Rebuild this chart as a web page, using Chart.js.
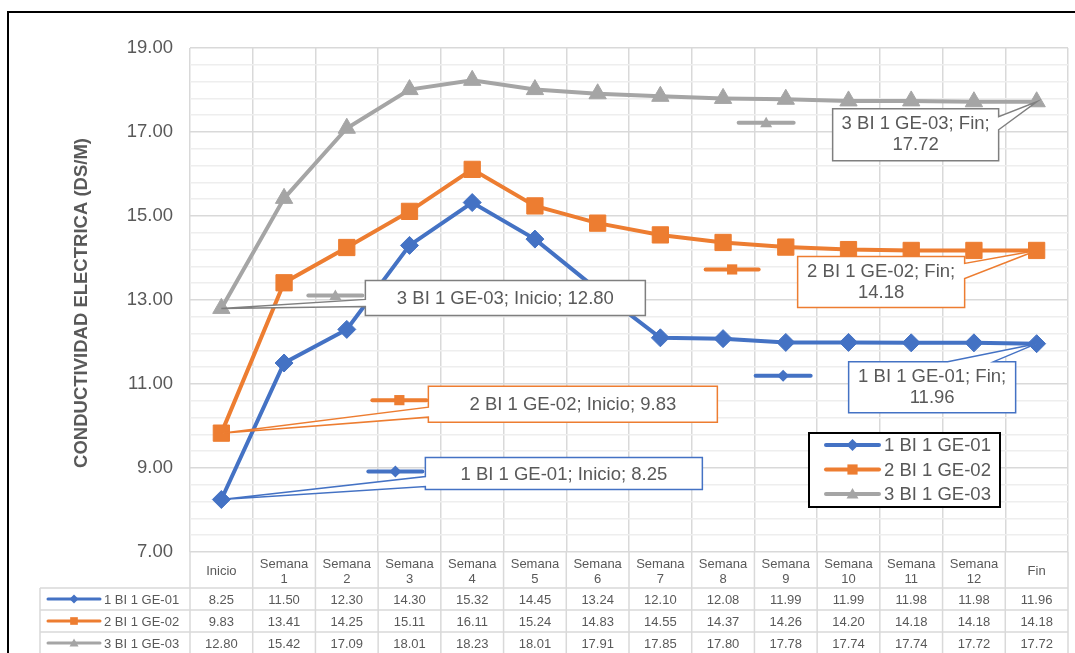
<!DOCTYPE html>
<html>
<head>
<meta charset="utf-8">
<title>Conductividad eléctrica</title>
<script src="https://cdn.jsdelivr.net/npm/chart.js@4.4.1/dist/chart.umd.min.js"></script>
<style>
  html, body { margin: 0; padding: 0; background: #ffffff; overflow: hidden; }
  canvas { display: block; }
</style>
</head>
<body>
<canvas id="chart" width="1075" height="653"></canvas>
<script>
// ---- data ----
const categories = ['Inicio', 'Semana 1', 'Semana 2', 'Semana 3', 'Semana 4', 'Semana 5', 'Semana 6',
  'Semana 7', 'Semana 8', 'Semana 9', 'Semana 10', 'Semana 11', 'Semana 12', 'Fin'];
const seriesNames = ['1 BI 1 GE-01', '2 BI 1 GE-02', '3 BI 1 GE-03'];
const ge01 = [8.25, 11.50, 12.30, 14.30, 15.32, 14.45, 13.24, 12.10, 12.08, 11.99, 11.99, 11.98, 11.98, 11.96];
const ge02 = [9.83, 13.41, 14.25, 15.11, 16.11, 15.24, 14.83, 14.55, 14.37, 14.26, 14.20, 14.18, 14.18, 14.18];
const ge03 = [12.80, 15.42, 17.09, 18.01, 18.23, 18.01, 17.91, 17.85, 17.80, 17.78, 17.74, 17.74, 17.72, 17.72];
const yMin = 7;
const yMax = 19;
const yMajorStep = 2;
const yMinorStep = 0.4;
const yAxisTitle = 'CONDUCTIVIDAD ELECTRICA (DS/M)';

// ---- styling ----
const seriesValues = [ge01, ge02, ge03];
const seriesColors = ['#4472C4', '#ED7D31', '#A5A5A5'];
const calloutBorders = ['#4472C4', '#ED7D31', '#7F7F7F'];
const seriesMarkers = ['diamond', 'square', 'triangle'];
const textColor = '#595959';
const gridMajor = '#D9D9D9';
const gridMinor = '#EEEEEE';
const FONT = '"Liberation Sans", Arial, Helvetica, sans-serif';

// callouts: which point they describe, box placement relative to the point,
// where the pointer joins the box, and where the small legend key sits
const callouts = [
  { s: 0, i: 0, twoLines: false, box: { dx: 204, dy: -42, w: 277, h: 32 }, wedge: { side: 'left', a: 19, b: 29 }, key: { x0: -57, x1: -3, y: 14 } },
  { s: 1, i: 0, twoLines: false, box: { dx: 207, dy: -47, w: 289, h: 36 }, wedge: { side: 'left', a: 21, b: 31 }, key: { x0: -56, x1: -2, y: 14 } },
  { s: 2, i: 0, twoLines: false, box: { dx: 144, dy: -28, w: 280, h: 35 }, wedge: { side: 'left', a: 19, b: 26 }, key: { x0: -57, x1: -3, y: 15 } },
  { s: 2, i: 13, twoLines: true, box: { dx: -204, dy: 7, w: 166, h: 52 }, wedge: { side: 'right', a: 8, b: 21 }, key: { x0: -94, x1: -39, y: 14 } },
  { s: 1, i: 13, twoLines: true, box: { dx: -239, dy: 6, w: 167, h: 51 }, wedge: { side: 'right', a: 7, b: 22 }, key: { x0: -92, x1: -39, y: 13 } },
  { s: 0, i: 13, twoLines: true, box: { dx: -188, dy: 18, w: 167, h: 51 }, wedge: { side: 'top', a: 99, b: 145 }, key: { x0: -93, x1: -38, y: 14 } }
];

const isMajor = v => Math.abs((v - yMin) / yMajorStep - Math.round((v - yMin) / yMajorStep)) < 1e-6;

function drawMarker(ctx, kind, x, y, s, color) {
  ctx.save();
  ctx.fillStyle = color;
  ctx.beginPath();
  if (kind === 'diamond') {
    ctx.moveTo(x, y - s); ctx.lineTo(x + s, y); ctx.lineTo(x, y + s); ctx.lineTo(x - s, y);
  } else if (kind === 'square') {
    ctx.rect(x - s * 0.85, y - s * 0.85, s * 1.7, s * 1.7);
  } else {
    ctx.moveTo(x, y - s); ctx.lineTo(x + s, y + s * 0.75); ctx.lineTo(x - s, y + s * 0.75);
  }
  ctx.closePath();
  ctx.fill();
  ctx.restore();
}

function drawKey(ctx, s, x0, x1, y, lw, ms) {
  ctx.save();
  ctx.strokeStyle = seriesColors[s];
  ctx.lineWidth = lw;
  ctx.lineCap = 'round';
  ctx.beginPath(); ctx.moveTo(x0, y); ctx.lineTo(x1, y); ctx.stroke();
  ctx.restore();
  drawMarker(ctx, seriesMarkers[s], (x0 + x1) / 2, y, ms, seriesColors[s]);
}

const decorations = {
  id: 'decorations',
  afterDatasetsDraw(chart) {
    const ctx = chart.ctx;
    const xs = chart.scales.x, ys = chart.scales.y;
    callouts.forEach(c => {
      const px = xs.getPixelForValue(c.i);
      const py = ys.getPixelForValue(seriesValues[c.s][c.i]);
      const L = px + c.box.dx, T = py + c.box.dy, R = L + c.box.w, B = T + c.box.h;
      const w = c.wedge;
      ctx.save();
      ctx.beginPath();
      ctx.moveTo(L, T);
      if (w.side === 'top') { ctx.lineTo(L + w.a, T); ctx.lineTo(px, py); ctx.lineTo(L + w.b, T); }
      ctx.lineTo(R, T);
      if (w.side === 'right') { ctx.lineTo(R, T + w.a); ctx.lineTo(px, py); ctx.lineTo(R, T + w.b); }
      ctx.lineTo(R, B);
      ctx.lineTo(L, B);
      if (w.side === 'left') { ctx.lineTo(L, T + w.b); ctx.lineTo(px, py); ctx.lineTo(L, T + w.a); }
      ctx.closePath();
      ctx.fillStyle = '#ffffff';
      ctx.fill();
      ctx.strokeStyle = calloutBorders[c.s];
      ctx.lineWidth = 1.5;
      ctx.lineJoin = 'miter';
      ctx.stroke();

      ctx.fillStyle = textColor;
      ctx.font = '18.5px ' + FONT;
      ctx.textAlign = 'center';
      ctx.textBaseline = 'middle';
      const value = seriesValues[c.s][c.i].toFixed(2);
      const cx = (L + R) / 2;
      if (c.twoLines) {
        ctx.fillText(seriesNames[c.s] + '; ' + categories[c.i] + ';', cx, T + 15);
        ctx.fillText(value, cx, T + 36);
      } else {
        ctx.fillText(seriesNames[c.s] + '; ' + categories[c.i] + '; ' + value, cx, (T + B) / 2 + 1);
      }
      ctx.restore();
      drawKey(ctx, c.s, L + c.key.x0, L + c.key.x1, T + c.key.y, 4, 6);
    });
  },
  afterDraw(chart) {
    const ctx = chart.ctx;
    const xs = chart.scales.x;
    const area = chart.chartArea;
    const half = (xs.getPixelForValue(1) - xs.getPixelForValue(0)) / 2;
    const top = area.bottom;
    const headerBottom = top + 36;
    const rowH = 22;
    const tableLeft = 40;
    const tableBottom = headerBottom + rowH * 3;

    // data table grid
    ctx.save();
    ctx.strokeStyle = gridMajor;
    ctx.lineWidth = 1.5;
    ctx.beginPath();
    for (let i = 0; i <= categories.length; i++) {
      const bx = xs.getPixelForValue(0) - half + i * 2 * half;
      ctx.moveTo(bx, top); ctx.lineTo(bx, tableBottom);
    }
    ctx.moveTo(tableLeft, headerBottom); ctx.lineTo(tableLeft, tableBottom);
    for (let r = 0; r <= 3; r++) {
      const yy = headerBottom + r * rowH;
      ctx.moveTo(tableLeft, yy); ctx.lineTo(area.right, yy);
    }
    ctx.stroke();

    // header (categories)
    ctx.fillStyle = textColor;
    ctx.font = '13px ' + FONT;
    ctx.textAlign = 'center';
    ctx.textBaseline = 'middle';
    categories.forEach((cat, i) => {
      const cx = xs.getPixelForValue(i);
      const parts = cat.split(' ');
      if (parts.length > 1) {
        ctx.fillText(parts[0], cx, top + 12);
        ctx.fillText(parts.slice(1).join(' '), cx, top + 27);
      } else {
        ctx.fillText(cat, cx, top + 19);
      }
    });

    // value rows
    seriesValues.forEach((vals, s) => {
      const cy = headerBottom + s * rowH + rowH / 2;
      vals.forEach((v, i) => ctx.fillText(v.toFixed(2), xs.getPixelForValue(i), cy + 1));
      ctx.textAlign = 'left';
      ctx.fillText(seriesNames[s], 104, cy + 1);
      ctx.textAlign = 'center';
      drawKey(ctx, s, 48, 100, cy, 3, 4.5);
      ctx.fillStyle = textColor;
    });
    ctx.restore();

    // legend
    ctx.save();
    const lg = { x: 809, y: 433, w: 191, h: 74 };
    ctx.fillStyle = '#ffffff';
    ctx.fillRect(lg.x, lg.y, lg.w, lg.h);
    ctx.strokeStyle = '#000000';
    ctx.lineWidth = 2;
    ctx.strokeRect(lg.x, lg.y, lg.w, lg.h);
    ctx.font = '18.5px ' + FONT;
    ctx.textAlign = 'left';
    ctx.textBaseline = 'middle';
    seriesNames.forEach((name, s) => {
      const ly = lg.y + 12 + s * 24.5;
      drawKey(ctx, s, lg.x + 17, lg.x + 70, ly, 4, 6);
      ctx.fillStyle = textColor;
      ctx.fillText(name, lg.x + 75, ly + 1);
    });
    ctx.restore();

    // value axis title
    ctx.save();
    ctx.translate(87, (area.top + area.bottom) / 2 + 3);
    ctx.rotate(-Math.PI / 2);
    ctx.fillStyle = textColor;
    ctx.font = 'bold 18.5px ' + FONT;
    ctx.textAlign = 'center';
    ctx.textBaseline = 'alphabetic';
    ctx.fillText(yAxisTitle, 0, 0);
    ctx.restore();

    // chart frame
    ctx.save();
    ctx.strokeStyle = '#000000';
    ctx.lineWidth = 2;
    ctx.strokeRect(8, 12, 1200, 800);
    ctx.restore();
  }
};

const datasets = seriesNames.map((name, s) => ({
  label: name,
  data: seriesValues[s],
  borderColor: seriesColors[s],
  backgroundColor: seriesColors[s],
  borderWidth: 4,
  pointStyle: ['rectRot', 'rect', 'triangle'][s],
  pointRadius: [9, 11.5, 10][s],
  pointBorderWidth: 1,
  pointBorderColor: seriesColors[s],
  pointBackgroundColor: seriesColors[s],
  tension: 0,
  fill: false
}));

new Chart(document.getElementById('chart'), {
  type: 'line',
  data: { labels: categories, datasets },
  options: {
    responsive: false,
    animation: false,
    devicePixelRatio: 1,
    events: [],
    layout: { autoPadding: false, padding: { top: 48, right: 7, bottom: 101, left: 0 } },
    plugins: { legend: { display: false }, tooltip: { enabled: false }, title: { display: false } },
    scales: {
      x: {
        type: 'category',
        offset: true,
        ticks: { display: false },
        border: { display: false },
        grid: { offset: true, drawTicks: false, color: gridMajor, lineWidth: 1.5 }
      },
      y: {
        min: yMin,
        max: yMax,
        afterBuildTicks(scale) {
          const n = Math.round((yMax - yMin) / yMinorStep);
          const ticks = [];
          for (let k = 0; k <= n; k++) ticks.push({ value: Math.round((yMin + k * yMinorStep) * 100) / 100 });
          scale.ticks = ticks;
        },
        afterFit(scale) { scale.width = 190; },
        border: { display: false },
        grid: {
          drawTicks: false,
          color: ctx => (ctx.tick && isMajor(ctx.tick.value)) ? gridMajor : gridMinor,
          lineWidth: 1.5
        },
        ticks: {
          autoSkip: false,
          padding: 17,
          color: textColor,
          font: { family: FONT, size: 18.5 },
          callback: v => isMajor(v) ? Number(v).toFixed(2) : ''
        }
      }
    }
  },
  plugins: [decorations]
});
</script>
</body>
</html>
